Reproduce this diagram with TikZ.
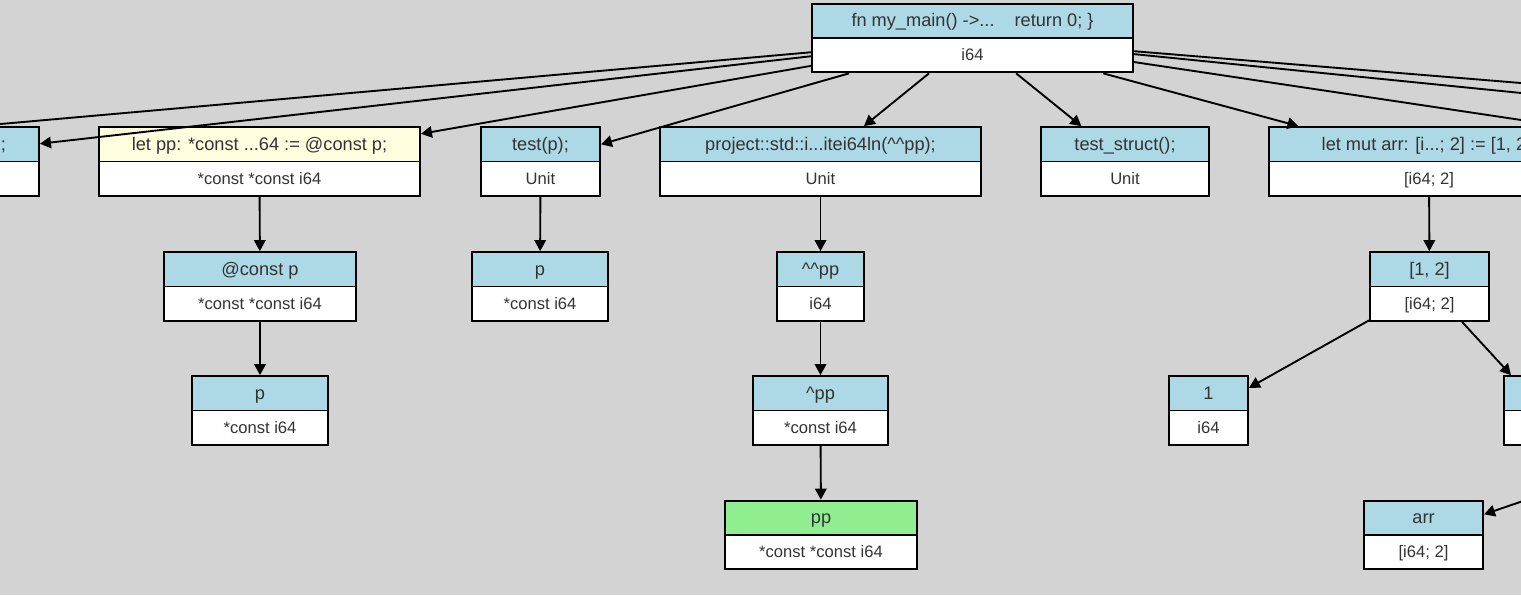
\documentclass[tikz,border=0pt]{standalone}
\usepackage{fontspec}
\setmainfont{Liberation Sans}
\usetikzlibrary{shapes.multipart,arrows.meta}
\definecolor{bggray}{HTML}{D3D3D3}
\definecolor{nodeblue}{HTML}{ADD8E6}
\definecolor{nodeyellow}{HTML}{FFFFE0}
\definecolor{nodegreen}{HTML}{90EE90}
\definecolor{textgray}{HTML}{333333}
\newcommand{\cell}[2]{\fontsize{18.2}{19}\selectfont\rule[-3.8pt]{0pt}{19pt}#1\nodepart{two}\fontsize{16.6}{19}\selectfont\rule[-4pt]{0pt}{19pt}#2}

\begin{document}
\begin{tikzpicture}[x=1pt,y=-1pt,
 rec/.style={rectangle split, rectangle split parts=2, draw=black, line width=1.9pt,
  inner xsep=4pt, inner ysep=6.75pt, text=textgray, rectangle split part fill={nodeblue,white}},
 recyellow/.style={rec, rectangle split part fill={nodeyellow,white}},
 recgreen/.style={rec, rectangle split part fill={nodegreen,white}},
 link/.style={-{Triangle[length=11pt,width=11.5pt]}, line width=1.9pt}]
 \useasboundingbox (0,0) rectangle (1521,595);
 \fill[bggray] (0,0) rectangle (1521,595);
 \clip (0,0) rectangle (1521,595);

 \node[rec, minimum width=321pt] (root) at (972.5,38) {\cell{fn my\_main() ->...\hspace{20pt}return 0; \}}{i64}};

 \node[rec, minimum width=318pt] (stmtleft) at (-120,161.5) {\cell{\hspace*{247pt};}{}};
 \node[recyellow, minimum width=321pt] (letpp) at (259.5,161.5) {\cell{let pp: *const ...64 := @const p;}{*const *const i64}};
 \node[rec, minimum width=119pt] (testp) at (540.5,161.5) {\cell{test(p);}{Unit}};
 \node[rec, minimum width=321pt] (println) at (820.5,161.5) {\cell{project::std::i...itei64ln(\textasciicircum\textasciicircum pp);}{Unit}};
 \node[rec, minimum width=168pt] (teststruct) at (1125,161.5) {\cell{test\_struct();}{Unit}};
 \node[rec, minimum width=320pt] (letarr) at (1429,161.5) {\cell{let mut arr: [i...; 2] := [1, 2];}{[i64; 2]}};

 \node[rec, minimum width=192pt] (refp) at (260,286.5) {\cell{@const p}{*const *const i64}};
 \node[rec, minimum width=136pt] (argp) at (540,286.5) {\cell{p}{*const i64}};
 \node[rec, minimum width=87pt] (derefpp) at (820.5,286.5) {\cell{\textasciicircum\textasciicircum pp}{i64}};
 \node[rec, minimum width=119pt] (arrlit) at (1429.5,286.5) {\cell{[1, 2]}{[i64; 2]}};

 \node[rec, minimum width=136pt] (varp) at (260,410.5) {\cell{p}{*const i64}};
 \node[rec, minimum width=135pt] (derefp) at (820.5,410.5) {\cell{\textasciicircum pp}{*const i64}};
 \node[rec, minimum width=79pt] (one) at (1208.5,410.5) {\cell{1}{i64}};
 \node[rec, minimum width=79pt] (two) at (1543.5,410.5) {\cell{}{}};

 \node[recgreen, minimum width=192pt] (varpp) at (821,535) {\cell{pp}{*const *const i64}};
 \node[rec, minimum width=119pt] (vararr) at (1423.5,535) {\cell{arr}{[i64; 2]}};

 \coordinate (offleft) at (-100,132.9);
 \coordinate (offright1) at (1600,89.5);
 \coordinate (offright2) at (1600,100.9);
 \coordinate (offright3) at (1600,131.8);
 \coordinate (arrparent) at (1700,440.6);

 \draw[link] (root) -- (offleft);
 \draw[link] (root) -- (stmtleft);
 \draw[link] (root) -- (letpp);
 \draw[link] (root) -- (testp);
 \draw[link] (root) -- (println);
 \draw[link] (root) -- (teststruct);
 \draw[link] (root) -- (letarr);
 \draw[link] (root) -- (offright1);
 \draw[link] (root) -- (offright2);
 \draw[link] (root) -- (offright3);

 \draw[link] (letpp) -- (refp);
 \draw[link] (refp) -- (varp);
 \draw[link] (testp) -- (argp);
 \draw[link] (println) -- (derefpp);
 \draw[link] (derefpp) -- (derefp);
 \draw[link] (derefp) -- (varpp);
 \draw[link] (letarr) -- (arrlit);
 \draw[link] (arrlit) -- (one);
 \draw[link] (arrlit) -- (two);
 \draw[link] (arrparent) -- (vararr);
\end{tikzpicture}
\end{document}
